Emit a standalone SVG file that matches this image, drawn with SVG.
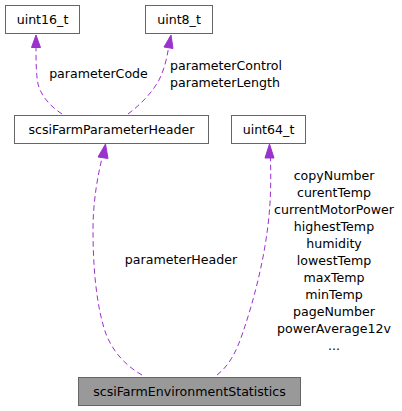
<svg xmlns="http://www.w3.org/2000/svg" width="402" height="411" viewBox="0 0 402 411">
<style>
.box{fill:#fff;stroke:#666;stroke-width:1}
.main{fill:#999;stroke:#666;stroke-width:1}
text{font-family:"DejaVu Sans",sans-serif;font-size:12.6px;fill:#000}
.e{fill:none;stroke:#9a32cd;stroke-width:1;stroke-dasharray:5.5,3.5}
.ah{fill:#9a32cd;stroke:#9a32cd}
</style>
<rect width="402" height="411" fill="#fff"/>
<g id="connectors">
<path class="e" d="M62,114 C50,106 41,96 38,84 C36,74 36,60 36,47"/>
<polygon class="ah" points="31.5,47.5 36,35 40.5,47.5"/>
<text x="98.5" y="78" text-anchor="middle">parameterCode</text>
<path class="e" d="M128,114 C140,105 152,93 159,80 C165,68 167,57 168.5,48"/>
<polygon class="ah" points="164,47 171,35 173,48.5"/>
<text x="170" y="70">parameterControl</text>
<text x="170" y="87">parameterLength</text>
<path class="e" d="M142,375 C126,366 113,352 106,334 C96,306 93,265 93,230 C93,200 98,175 102,158"/>
<polygon class="ah" points="98,157 105.5,144 108,158.5"/>
<text x="181" y="263.5" text-anchor="middle">parameterHeader</text>
<path class="e" d="M217,375 C230,365 237,350 243,332 C254,300 264,260 268,225 C271,200 271,180 270.5,158"/>
<polygon class="ah" points="265,158 269.5,144 274,158"/>
<g text-anchor="middle">
<text x="334" y="179.5">copyNumber</text>
<text x="334" y="196.5">curentTemp</text>
<text x="334" y="213.5">currentMotorPower</text>
<text x="334" y="230.5">highestTemp</text>
<text x="334" y="247.5">humidity</text>
<text x="334" y="264.5">lowestTemp</text>
<text x="334" y="281.5">maxTemp</text>
<text x="334" y="298.5">minTemp</text>
<text x="334" y="315.5">pageNumber</text>
<text x="334" y="332.5">powerAverage12v</text>
<text x="334" y="349.5">...</text>
</g>
</g>
<g id="uint16_t"><rect class="box" x="5.5" y="5.5" width="74" height="28"/><text x="42.5" y="23.5" text-anchor="middle">uint16_t</text></g>
<g id="uint8_t"><rect class="box" x="145.5" y="5.5" width="67" height="28"/><text x="179" y="23.5" text-anchor="middle">uint8_t</text></g>
<g id="scsiFarmParameterHeader"><rect class="box" x="14.5" y="115.5" width="194" height="28"/><text x="111.5" y="133.5" text-anchor="middle">scsiFarmParameterHeader</text></g>
<g id="uint64_t"><rect class="box" x="231.5" y="115.5" width="74" height="28"/><text x="268.5" y="133.5" text-anchor="middle">uint64_t</text></g>
<g id="scsiFarmEnvironmentStatistics"><rect class="main" x="78.5" y="377.5" width="222" height="28"/><text x="189.5" y="395.5" text-anchor="middle">scsiFarmEnvironmentStatistics</text></g>
</svg>
